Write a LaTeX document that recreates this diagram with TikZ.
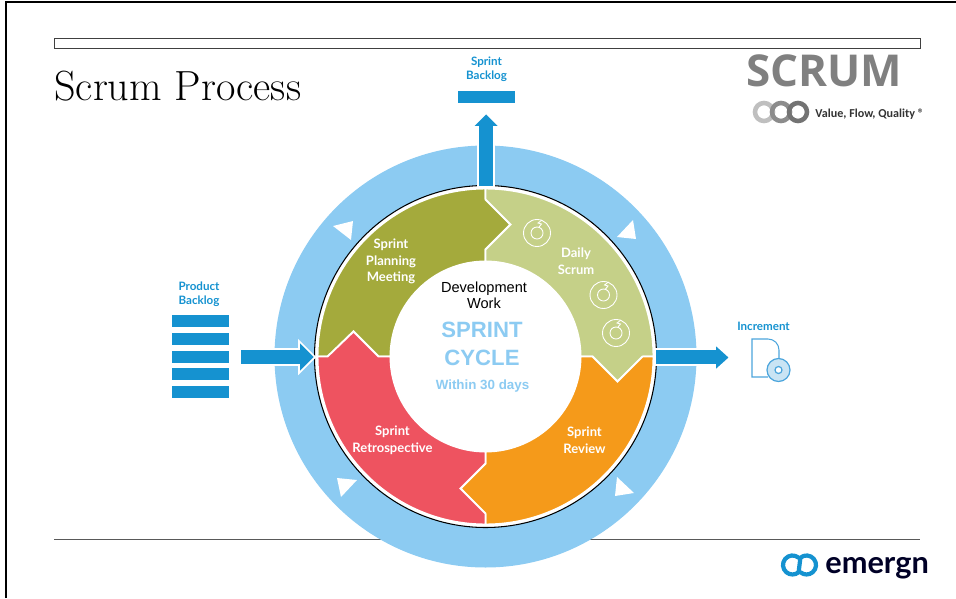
\documentclass[tikz,border=0pt]{standalone}
\usepackage{fontspec}
\newfontfamily\labelfont{Lato}
\newfontfamily\logofont{Open Sans}
\newfontfamily\arialfont{Liberation Sans}
\newfontfamily\tagfont{Carlito}
\definecolor{ringblue}{HTML}{8CCBF2}
\definecolor{barblue}{HTML}{1592D0}
\definecolor{iconblue}{HTML}{4CA5DC}
\definecolor{planolive}{HTML}{A4AA3C}
\definecolor{dailygreen}{HTML}{C5D088}
\definecolor{revieworange}{HTML}{F59A1A}
\definecolor{retrored}{HTML}{EE5360}
\tikzset{
	barbox/.style={fill=barblue, draw=none},
	ringarrow/.style={fill=barblue, draw=white, line width=1pt},
	whitelabel/.style={text=white, align=center, font=\labelfont\fontsize{7.4}{9.5}\selectfont\bfseries},
	bluelabel/.style={text=barblue, align=center, font=\labelfont\fontsize{6.6}{8}\selectfont\bfseries},
	cyclelabel/.style={text=ringblue, align=center, font=\arialfont\bfseries}
}
\def\scrumloop(#1,#2){
	\draw[white, line width=0.5pt] (#1,#2) circle (13.5);
	\draw[white, line width=0.5pt] (#1,#2) circle (6);
	\draw[white, line width=0.5pt] (#1+2,#2-6) -- (#1+4.5,#2-9) -- (#1+1,#2-10) -- (#1+5,#2-13);
}
\begin{document}
\begin{tikzpicture}[x=0.02cm, y=-0.02cm]
	%%%%% PAGE %%%%%
	\useasboundingbox (0,0) rectangle (956,598);
	\draw[line width=1.2pt] (6,598) -- (6,2) -- (956,2);
	\draw[line width=0.5pt, color=black!75] (54,38) rectangle (920,48);
	\draw[line width=0.7pt, color=black!65] (54,539.5) -- (920,539.5);
	\node[anchor=base west, inner sep=0pt, font=\fontsize{24}{28}\selectfont] (title) at (54,101) {Scrum Process};

	%%%%% RING %%%%%
	\fill[ringblue] (485.5,356.5) circle (211);
	\fill[white] (333,226) -- (353,221) -- (351,240) -- cycle;
	\fill[white] (617,237) -- (633,220) -- (636,239) -- cycle;
	\fill[white] (337,478) -- (357,480) -- (341,497) -- cycle;
	\fill[white] (617,477) -- (634,493) -- (615,496) -- cycle;
	\draw[fill=white, line width=0.6pt] (485.5,356.5) circle (171);

	%%%%% SEGMENTS %%%%%
	\foreach \rot/\segcol in {0/planolive, 90/dailygreen, 180/revieworange, 270/retrored} {
		\begin{scope}[shift={(485.5,356.5)}, yscale=-1, rotate=\rot]
			\draw[fill=\segcol, draw=white, line width=1.1pt, line join=miter]
				(-168,0) arc (180:90:168) -- (0,158) -- (25,132) -- (0,107) -- (0,95)
				arc (90:180:95) -- (-107,0) -- (-132,25) -- (-157,0) -- cycle;
		\end{scope}
	}
	\scrumloop(537,233)
	\scrumloop(603.5,295)
	\scrumloop(616,333)

	%%%%% ARROWS %%%%%
	\draw[ringarrow] (478,187) -- (478,127) -- (472,127) -- (486,113) -- (500,127) -- (494,127) -- (494,187) -- cycle;
	\draw[ringarrow] (240,349) -- (299,349) -- (299,341) -- (315,357) -- (299,373) -- (299,365) -- (240,365) -- cycle;
	\draw[ringarrow] (655,349) -- (715,349) -- (715,344) -- (730,357.5) -- (715,371) -- (715,365) -- (655,365) -- cycle;

	%%%%% BACKLOGS %%%%%
	\foreach \bary in {315,333,351,368,386} {
		\fill[barbox] (172,\bary) rectangle (229,\bary+12);
	}
	\fill[barbox] (458,91) rectangle (515,103);

	%%%%% ICON %%%%%
	\draw[iconblue, line width=0.6pt] (768,377) -- (752,377) -- (752,339) -- (768,339) arc (-90:0:11) -- (779,360);
	\draw[iconblue, fill=iconblue!30, line width=0.7pt] (778.5,370) circle (11.5);
	\draw[iconblue, fill=white, line width=0.7pt] (778.5,370) circle (3.5);

	%%%%% TEXT %%%%%
	\node[whitelabel] (planning) at (391,261.5) {Sprint\\Planning\\Meeting};
	\node[whitelabel] (daily) at (576,261) {Daily\\Scrum};
	\node[whitelabel] (retro) at (392.5,440.5) {Sprint\\Retrospective};
	\node[whitelabel] (review) at (584.5,440.5) {Sprint\\Review};
	\node[bluelabel] (product) at (199,294) {Product\\Backlog};
	\node[bluelabel] (sprintlog) at (486.5,69) {Sprint\\Backlog};
	\node[bluelabel] (increment) at (763.5,326) {Increment};
	\node[align=center, font=\arialfont\fontsize{8.3}{9.4}\selectfont] (devwork) at (484,295.5) {Development\\Work};
	\node[cyclelabel, font=\arialfont\bfseries\fontsize{12.6}{16}\selectfont] (sprintcycle) at (482,344) {SPRINT\\[0pt]CYCLE};
	\node[cyclelabel, font=\arialfont\bfseries\fontsize{7.6}{9}\selectfont] (within) at (482.5,386) {Within 30 days};

	%%%%% LOGOS %%%%%
	\node[text=black!50, font=\logofont\bfseries\fontsize{25}{28}\selectfont] (scrumlogo) at (824,71) {SCRUM};
	\draw[black!25, line width=2.6pt] (764,112) circle (9);
	\draw[black!45, line width=2.6pt] (781,112) circle (9);
	\draw[black!55, line width=2.6pt] (798,112) circle (9);
	\node[anchor=west, inner sep=0pt, text=black!80, font=\tagfont\bfseries\fontsize{6.9}{8}\selectfont] (tagline) at (815,114) {Value, Flow, Quality ®};
	\draw[barblue, line width=2.4pt] (798.6,557.7) arc (-50:-310:9.5) -- (800.4,557.7) arc (230:490:9.5);
	\node[anchor=base west, inner sep=0pt, text=black!85!blue, font=\labelfont\fontsize{17.5}{20}\selectfont\bfseries] (emergn) at (825,573) {emergn};
\end{tikzpicture}
\end{document}
